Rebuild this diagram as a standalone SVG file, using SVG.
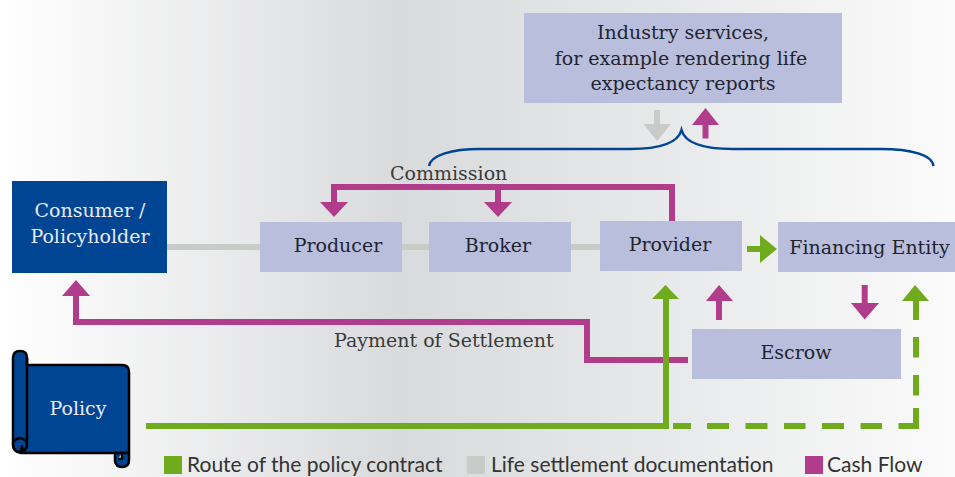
<svg xmlns="http://www.w3.org/2000/svg" width="955" height="477" viewBox="0 0 955 477">
<style>
.box{fill:#b9bedd}
.blue{fill:#004494}
.t{font-family:"DejaVu Serif","Liberation Serif",serif;font-size:19px;fill:#1f2430;text-anchor:middle}
.w{fill:#e6ebf5}
.lab{fill:#3a3a3a;text-anchor:start}
.leg{font-family:"Lato","Open Sans",sans-serif;font-size:21px;fill:#333}
.m{fill:none;stroke:#b23c8c;stroke-width:6}
.g{fill:none;stroke:#6fab1c;stroke-width:6}
.gr{fill:none;stroke:#c8cbc8;stroke-width:6}
.mf{fill:#b23c8c}.gf{fill:#6fab1c}.grf{fill:#c8cbc8}
.sc{fill:#004494;stroke:#000;stroke-width:2.5;stroke-linejoin:round}
</style>
<defs>
<linearGradient id="bg" x1="0" x2="1" y1="0" y2="0">
<stop offset="0" stop-color="#ffffff"/><stop offset="0.42" stop-color="#d9dadc"/><stop offset="0.72" stop-color="#e9eaeb"/><stop offset="1" stop-color="#fbfbfb"/>
</linearGradient>
</defs>
<rect width="955" height="477" fill="url(#bg)"/>
<g id="connectors">
<path class="gr" d="M167 247H260M402 247H429M571 247H600"/>
<path class="m" d="M672 221V187H334V203M498 187V203"/>
<path class="mf" d="M320 202H348L334 217ZM484 202H512L498 217Z"/>
<path class="gr" d="M657 110V125"/>
<path class="grf" d="M643.500 124H671L657 141Z"/>
<path class="m" d="M705.500 124V138.500"/>
<path class="mf" d="M692 125H719L705.500 108Z"/>
<path fill="none" stroke="#004494" stroke-width="2.500" d="M429 166C431 155 452 149 480 149H630C660 149 678 143 681.500 130C685 143 703 149 733 149H880C912 149 932 155 933.500 166"/>
<path class="g" d="M747 249H761"/>
<path class="gf" d="M760 235L777 249L760 263Z"/>
<path class="m" d="M688 360H587V322H76V295"/>
<path class="mf" d="M62 296H90L76 280Z"/>
<path class="g" d="M146 426H666V298"/>
<path class="gf" d="M652 299H679L665.500 285Z"/>
<path class="m" d="M719 300V320"/>
<path class="mf" d="M706 301H733L719 285Z"/>
<path class="m" d="M864.700 285V304"/>
<path class="mf" d="M851 303H879L864.700 319.500Z"/>
<path class="g" d="M673 426H691M707 426H729M745.500 426H767.500M784 426H805.500M822 426H844M860.500 426H882M898.500 426H916V408M916 395.500V375M916 337V357.500M916 320V300"/>
<path class="gf" d="M902 301H929L915 285Z"/>
</g>
<g id="industry"><rect class="box" x="524" y="13" width="318" height="90"/>
<text class="t" x="683" y="39">Industry services,</text><text class="t" x="681" y="65">for example rendering life</text><text class="t" x="683" y="90">expectancy reports</text></g>
<g id="consumer"><rect class="blue" x="12" y="181" width="155" height="92"/>
<text class="t w" x="90" y="217">Consumer /</text><text class="t w" x="90" y="243">Policyholder</text></g>
<g id="producer"><rect class="box" x="260" y="222" width="142" height="50"/><text class="t" x="338" y="252">Producer</text></g>
<g id="broker"><rect class="box" x="429" y="222" width="142" height="50"/><text class="t" x="498" y="252">Broker</text></g>
<g id="provider"><rect class="box" x="600" y="221" width="142" height="50"/><text class="t" x="670" y="251">Provider</text></g>
<g id="financing"><rect class="box" x="778" y="222" width="177" height="50"/><text class="t" x="869.500" y="254">Financing Entity</text></g>
<g id="escrow"><rect class="box" x="692" y="329" width="209" height="50"/><text class="t" x="796" y="359">Escrow</text></g>
<g id="policy">
<path class="sc" d="M27 365H122Q129 365 129 372V453H21Q13 452 13 444V358Q13 351 20 351Q27 351 27 358Z"/>
<path class="sc" d="M27 358V445Q27 439 20 438Q13 439 13 445Q14 452 20 452Q27 451 27 445M22 445V449M20 449H25"/>
<path class="sc" d="M115 453V461Q116 467 122 467Q129 467 129 460V453M115 453H129M122 453V459H118"/>
<text class="t w" x="78" y="415">Policy</text>
</g>
<text class="t lab" x="390" y="180">Commission</text>
<text class="t lab" x="334" y="347">Payment of Settlement</text>
<g id="legend">
<rect class="gf" x="164" y="456" width="18" height="18"/><text class="leg" x="187" y="472">Route of the policy contract</text>
<rect class="grf" x="467" y="456" width="18" height="18"/><text class="leg" x="491" y="472">Life settlement documentation</text>
<rect class="mf" x="805" y="456" width="18" height="18"/><text class="leg" x="827" y="472">Cash Flow</text>
</g>
</svg>
